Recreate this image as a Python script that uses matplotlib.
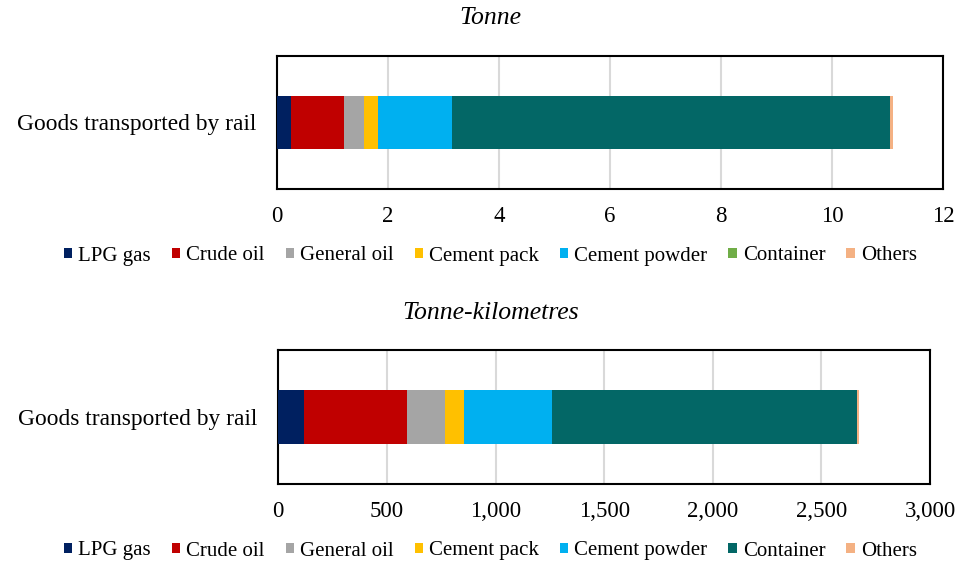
import matplotlib.pyplot as plt
from matplotlib.patches import Patch
from matplotlib.ticker import FuncFormatter

# Data
categories = ['LPG gas', 'Crude oil', 'General oil', 'Cement pack',
              'Cement powder', 'Container', 'Others']
tonne = [0.25, 0.96, 0.36, 0.25, 1.33, 7.90, 0.05]
tonne_km = [118, 474, 175, 88, 405, 1406, 6]
row_label = 'Goods transported by rail'

colors = ['#002060', '#C00000', '#A5A5A5', '#FFC000', '#00B0F0', '#036766', '#F4B183']
# the top legend shows the Container swatch in green
legend_colors_top = colors[:5] + ['#70AD47'] + colors[6:]

plt.rcParams['font.family'] = ['Liberation Serif', 'DejaVu Serif']

fig = plt.figure(figsize=(9.71, 5.62), dpi=100)
ax1 = fig.add_axes([0.2853, 0.6637, 0.686, 0.2367])
ax2 = fig.add_axes([0.2866, 0.1388, 0.6712, 0.2384])


def draw(ax, values, xmax, step, fmt, leg_colors, leg_y):
    left = 0
    for v, c in zip(values, colors):
        ax.barh([row_label], [v], left=left, height=0.4, color=c, zorder=3)
        left += v
    ax.set_xlim(0, xmax)
    ax.set_ylim(-0.5, 0.5)
    ax.set_xticks([i * step for i in range(int(round(xmax / step)) + 1)])
    ax.xaxis.set_major_formatter(FuncFormatter(fmt))
    ax.grid(axis='x', color='#d9d9d9', linewidth=1.5, zorder=0)
    ax.tick_params(length=0, labelsize=16.5, pad=12)
    ax.tick_params(axis='y', labelsize=16.8, pad=15)
    for s in ax.spines.values():
        s.set_linewidth(1.5)
        s.set_color('black')
    handles = [Patch(facecolor=c, label=n) for c, n in zip(leg_colors, categories)]
    fig.legend(handles=handles, loc='center', bbox_to_anchor=(0.505, leg_y),
               ncol=7, frameon=False, fontsize=15, handlelength=0.4,
               handleheight=0.4, handletextpad=0.3, columnspacing=1.0)


draw(ax1, tonne, 12, 2, lambda x, p: f'{x:g}', legend_colors_top, 1 - 256 / 562)
draw(ax2, tonne_km, 3000, 500, lambda x, p: f'{x:,.0f}', colors, 1 - 551 / 562)

fig.text(0.505, 1 - 18 / 562, 'Tonne', ha='center', va='center',
         fontsize=18.5, style='italic')
fig.text(0.505, 1 - 313 / 562, 'Tonne-kilometres', ha='center', va='center',
         fontsize=18.5, style='italic')

fig.savefig('out.png', dpi=100)
